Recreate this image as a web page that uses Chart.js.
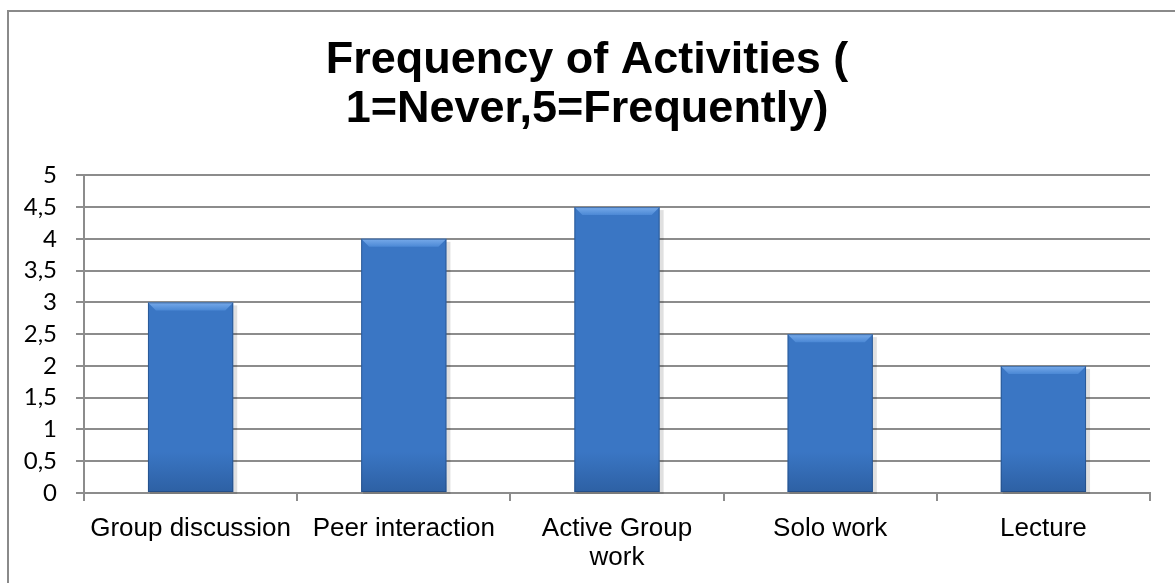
<!DOCTYPE html>
<html>
<head>
<meta charset="utf-8">
<script src="https://cdn.jsdelivr.net/npm/chart.js@4"></script>
<style>
	html, body { margin: 0; padding: 0; background: #fff; }
	#wrap { position: relative; width: 1175px; height: 583px; overflow: hidden; }
	#frame { position: absolute; left: 7px; top: 10px; width: 1300px; height: 700px; border: 2px solid #8a8a8a; box-sizing: border-box; }
	#statChart { position: absolute; left: 0; top: 0; }
</style>
</head>
<body>
<div id="wrap">
	<div id="frame"></div>
	<canvas id="statChart" width="1175" height="583"></canvas>
</div>
<script>
var titleLines = ['Frequency of Activities (', '1=Never,5=Frequently)']
var categories = ['Group discussion', 'Peer interaction', ['Active Group', 'work'], 'Solo work', 'Lecture']
var scores = [3, 4, 4.5, 2.5, 2]
var yTicks = [0, 0.5, 1, 1.5, 2, 2.5, 3, 3.5, 4, 4.5, 5]

var gridGray = '#8c8c8c'

function barFill(context) {
	var chart = context.chart
	var el = context.element
	if (!el || !chart.chartArea || !isFinite(el.x) || !isFinite(el.width)) return '#3a76c4'
	var half = el.width / 2
	var g = chart.ctx.createLinearGradient(el.x - half, 0, el.x + half, 0)
	g.addColorStop(0, '#28558f')
	g.addColorStop(0.07, '#336bb3')
	g.addColorStop(0.5, '#3a77c5')
	g.addColorStop(0.93, '#3266ab')
	g.addColorStop(1, '#214b82')
	return g
}

// bevel + soft shadow like the office look
var bevel = {
	id: 'bevel',
	beforeDatasetsDraw(chart) {
		var ctx = chart.ctx
		chart.getDatasetMeta(0).data.forEach(bar => {
			var half = bar.width / 2
			ctx.save()
			ctx.fillStyle = 'rgba(0,0,0,0.12)'
			ctx.fillRect(bar.x - half + 2, bar.y + 3, bar.width + 2, bar.base - bar.y - 1)
			ctx.restore()
		})
	},
	afterDatasetsDraw(chart) {
		var ctx = chart.ctx
		chart.getDatasetMeta(0).data.forEach(bar => {
			var half = bar.width / 2
			var l = bar.x - half, r = bar.x + half, t = bar.y, b = bar.base
			var d = 8
			ctx.save()
			// top bevel
			var gt = ctx.createLinearGradient(0, t, 0, t + d)
			gt.addColorStop(0, '#78abea')
			gt.addColorStop(1, '#4b88d5')
			ctx.fillStyle = gt
			ctx.beginPath()
			ctx.moveTo(l, t); ctx.lineTo(r, t); ctx.lineTo(r - d, t + d); ctx.lineTo(l + d, t + d); ctx.closePath()
			ctx.fill()
			// lower part gets darker
			var gb = ctx.createLinearGradient(0, b - 40, 0, b)
			gb.addColorStop(0, 'rgba(30,70,125,0)')
			gb.addColorStop(1, 'rgba(30,70,125,0.45)')
			ctx.fillStyle = gb
			ctx.fillRect(l, b - 40, r - l, 40)
			ctx.strokeStyle = 'rgba(30,65,115,0.55)'
			ctx.lineWidth = 1
			ctx.strokeRect(l + 0.5, t + 0.5, r - l - 1, b - t - 1)
			ctx.restore()
		})
	}
}

Chart.defaults.font.family = '"Liberation Sans", Arial, sans-serif'
Chart.defaults.color = '#000'

new Chart(document.getElementById('statChart').getContext('2d'), {
	type: 'bar',
	data: {
		labels: categories,
		datasets: [{
			data: scores,
			backgroundColor: barFill,
			borderWidth: 0,
			barPercentage: 0.4,
			categoryPercentage: 1
		}]
	},
	options: {
		responsive: false,
		animation: false,
		layout: { padding: { left: 24, right: 25, top: 0, bottom: 0 } },
		plugins: {
			legend: { display: false },
			tooltip: { enabled: false },
			title: {
				display: true,
				text: titleLines,
				color: '#000',
				font: { size: 45, weight: 'bold', family: '"Liberation Sans", Arial, sans-serif', lineHeight: 1.07 },
				padding: { top: 37, bottom: 42 }
			}
		},
		scales: {
			x: {
				grid: { drawOnChartArea: false, drawTicks: true, tickLength: 8, color: gridGray, lineWidth: 2, offset: true },
				border: { color: gridGray, width: 2 },
				ticks: { font: { size: 26, lineHeight: 1.12 }, padding: 13, maxRotation: 0, autoSkip: false },
				afterFit(scale) { scale.height = 90 }
			},
			y: {
				min: 0,
				max: 5,
				afterBuildTicks(scale) { scale.ticks = yTicks.map(v => ({ value: v })) },
				grid: { color: gridGray, lineWidth: 2, tickLength: 8 },
				border: { color: gridGray, width: 2 },
				ticks: {
					font: { size: 24, family: 'Lato, "Open Sans", sans-serif', lineHeight: 1 },
					padding: 19,
					autoSkip: false,
					callback: v => String(v).replace('.', ',')
				},
				afterFit(scale) { scale.width = 60 }
			}
		}
	},
	plugins: [bevel]
})
</script>
</body>
</html>
